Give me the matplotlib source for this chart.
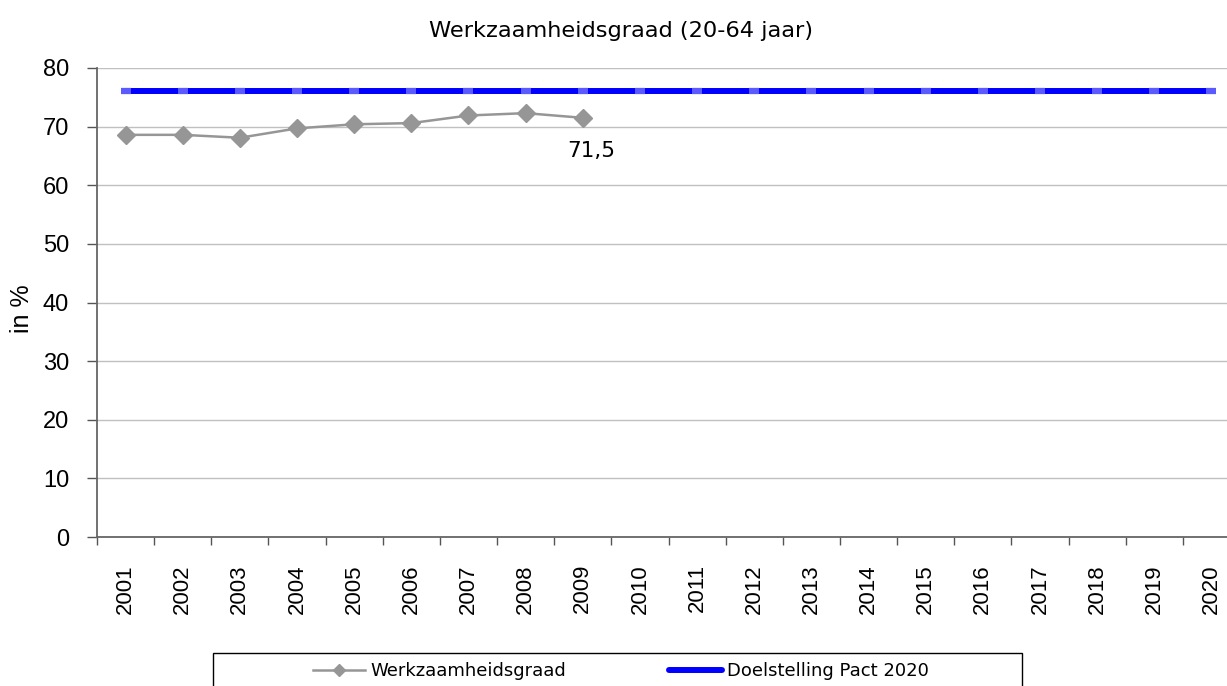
import matplotlib.pyplot as plt
from matplotlib.patches import Rectangle
from matplotlib.lines import Line2D

years = [str(y) for y in range(2001, 2021)]
werkzaamheid = [68.6, 68.6, 68.1, 69.7, 70.4, 70.6, 71.9, 72.3, 71.5]
doelstelling = [76] * len(years)

W, H = 1227, 686
fig = plt.figure(figsize=(W / 100, H / 100), dpi=100)

# axes area in pixels: left 97, bottom 537, top 68, 57.15 px per year
ax = fig.add_axes([97 / W, 1 - 537 / H, 20 * 57.15 / W, (537 - 68) / H])

x_all = list(range(1, len(years) + 1))
x_w = x_all[:len(werkzaamheid)]

ax.plot(x_w, werkzaamheid, color='#969696', lw=1.8, marker='D', ms=9.5,
        mfc='#969696', mec='#969696', zorder=3)
ax.plot(x_all, doelstelling, color='#0000ff', lw=4.3, marker='_', ms=7,
        mew=4.5, mec='#5a5aff', solid_capstyle='round', zorder=4)

ax.annotate('71,5', (x_w[-1], werkzaamheid[-1]), xytext=(8, -33),
            textcoords='offset pixels', ha='center', va='center',
            fontsize=15.5, family='DejaVu Sans')

ax.set_xlim(0.5, 20.5)
ax.set_ylim(0, 80)
ax.set_yticks(range(0, 81, 10))
ax.set_xticks([i + 0.5 for i in range(0, 21)])
ax.set_xticklabels([])
ax.set_xticks(x_all, minor=True)
ax.set_xticklabels(years, minor=True, rotation=90, fontsize=16,
                   family='Liberation Sans')
ax.tick_params(axis='x', which='major', length=6, color='#555555', width=1)
ax.tick_params(axis='x', which='minor', length=0, pad=19.5)
ax.tick_params(axis='y', length=7, color='#555555', width=1, pad=13,
               labelsize=17)
for lab in ax.get_yticklabels():
    lab.set_family('Liberation Sans')

ax.grid(axis='y', color='#c0c0c0', lw=1)
ax.set_axisbelow(True)
for s in ['top', 'right']:
    ax.spines[s].set_visible(False)
for s in ['left', 'bottom']:
    ax.spines[s].set_color('#666666')
    ax.spines[s].set_linewidth(1.3)

fig.text(22 / W, 1 - 309 / H, 'in %', rotation=90, ha='center', va='center',
         fontsize=18, family='Liberation Sans')
fig.text(621 / W, 1 - 31 / H, 'Werkzaamheidsgraad (20-64 jaar)',
         ha='center', va='center', fontsize=16.2, family='DejaVu Sans')

# legend box, clipped by the bottom edge
fig.patches.append(Rectangle((213 / W, -0.05), (1022 - 213) / W,
                             0.05 + (H - 653) / H, transform=fig.transFigure,
                             fill=False, edgecolor='#000000', lw=1))
handles = [
    Line2D([], [], color='#969696', lw=1.8, marker='D', ms=6),
    Line2D([], [], color='#0000ff', lw=4.3, solid_capstyle='round'),
]
fig.legend(handles, ['Werkzaamheidsgraad', 'Doelstelling Pact 2020'],
           loc='center left', bbox_to_anchor=(313 / W, 1 - 671 / H), ncol=2,
           frameon=False, handlelength=2.9, handletextpad=0.28,
           columnspacing=5.72, borderpad=0, borderaxespad=0,
           prop={'family': 'DejaVu Sans', 'size': 13})

fig.savefig('out.png', dpi=100)
